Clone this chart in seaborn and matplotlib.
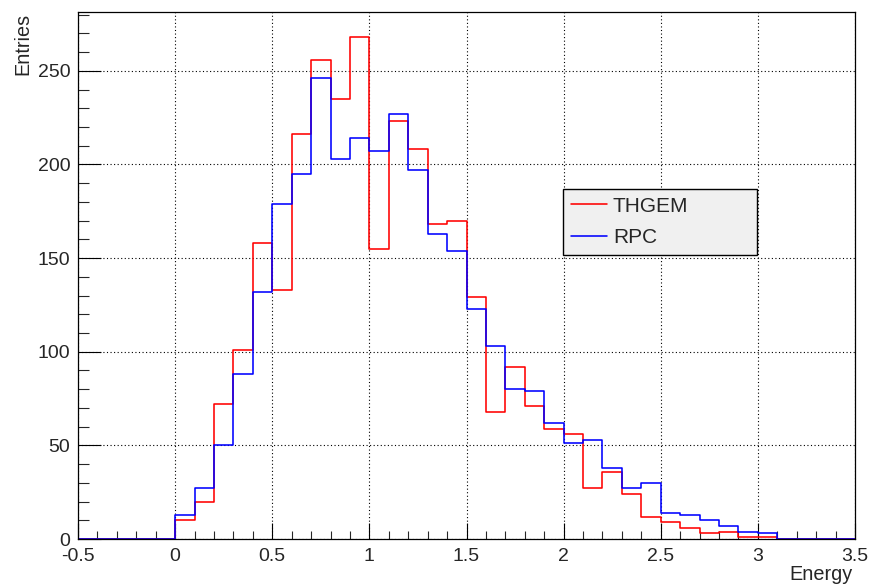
import numpy as np
import pandas as pd
import seaborn as sns
import matplotlib
matplotlib.use("Agg")
import matplotlib.pyplot as plt
from matplotlib.ticker import MultipleLocator

# ---- data (40 bins of width 0.1 from -0.5 to 3.5) ----
bin_edges = [round(-0.5 + 0.1 * i, 2) for i in range(41)]
thgem_counts = [0, 0, 0, 0, 0,
                10, 20, 72, 101, 158, 133, 216, 256, 235, 268,
                155, 223, 208, 168, 170, 129, 68, 92, 71, 59,
                56, 27, 36, 24, 12, 9, 6, 3, 4, 1,
                1, 0, 0, 0, 0]
rpc_counts = [0, 0, 0, 0, 0,
              13, 27, 50, 88, 132, 179, 195, 246, 203, 214,
              207, 227, 197, 163, 154, 123, 103, 80, 79, 62,
              51, 53, 38, 27, 30, 14, 13, 10, 7, 4,
              3, 0, 0, 0, 0]
series_labels = ["THGEM", "RPC"]
x_label = "Energy"
y_label = "Entries"

edges_arr = np.array(bin_edges)
bin_centers = (edges_arr[:-1] + edges_arr[1:]) / 2
df = pd.DataFrame({
    "energy": np.concatenate([bin_centers, bin_centers]),
    "count": np.concatenate([thgem_counts, rpc_counts]).astype(float),
    "detector": [series_labels[0]] * len(bin_centers) + [series_labels[1]] * len(bin_centers),
})

sns.set_style("ticks")
plt.rcParams["font.family"] = ["Liberation Sans", "DejaVu Sans"]

fig = plt.figure(figsize=(8.71, 5.88), dpi=100)
ax = fig.add_axes([78 / 871, 1 - 539 / 588, 777 / 871, 527 / 588])

colors = {"THGEM": "#ff0000", "RPC": "#0000ff"}
for name in series_labels:
    sub = df[df["detector"] == name]
    sns.histplot(data=sub, x="energy", weights="count", bins=bin_edges,
                 element="step", fill=False, color=colors[name], linewidth=1.15,
                 label=name, ax=ax)

ax.set_xlim(-0.5, 3.5)
ax.set_ylim(0, max(thgem_counts + rpc_counts) * 1.05)

ax.xaxis.set_major_locator(MultipleLocator(0.5))
ax.xaxis.set_minor_locator(MultipleLocator(0.1))
ax.yaxis.set_major_locator(MultipleLocator(50))
ax.yaxis.set_minor_locator(MultipleLocator(10))
ax.xaxis.set_major_formatter(matplotlib.ticker.FuncFormatter(lambda v, p: f"{v:g}"))

ax.tick_params(axis="x", which="major", direction="in", length=11.5, width=0.8,
               labelsize=14, pad=6.5, top=False, color="black")
ax.tick_params(axis="x", which="minor", direction="in", length=5.8, width=0.8, top=False)
ax.tick_params(axis="y", which="major", direction="in", length=16.3, width=0.8,
               labelsize=14, pad=5.6, right=False, color="black")
ax.tick_params(axis="y", which="minor", direction="in", length=8, width=0.8, right=False)

for s in ax.spines.values():
    s.set_visible(True)
    s.set_color("black")
    s.set_linewidth(0.9)

ax.grid(True, which="major", color="black", linestyle=(0, (1, 2.2)), linewidth=0.8)
ax.set_axisbelow(True)

ax.set_xlabel(x_label, fontsize=14.3, loc="right")
ax.xaxis.set_label_coords(1 - 2 / 777, -26 / 527)
ax.set_ylabel(y_label, fontsize=14.3, loc="top")
ax.yaxis.set_label_coords(-46 / 777, 0.998)

handles = [ax.lines[0], ax.lines[1]]
leg = ax.legend(handles=handles, labels=series_labels, loc="upper left",
                bbox_to_anchor=(563 / 871, 1 - 255 / 588, 194 / 871, 66 / 588),
                bbox_transform=fig.transFigure, mode="expand", borderaxespad=0,
                fontsize=15, frameon=True, fancybox=False, shadow=False,
                edgecolor="black", facecolor="#f0f0f0", framealpha=1,
                handlelength=1.73, handletextpad=0.29, borderpad=0.37,
                labelspacing=0.6)
leg.get_frame().set_linewidth(1.0)

fig.savefig("out.png", dpi=100)
